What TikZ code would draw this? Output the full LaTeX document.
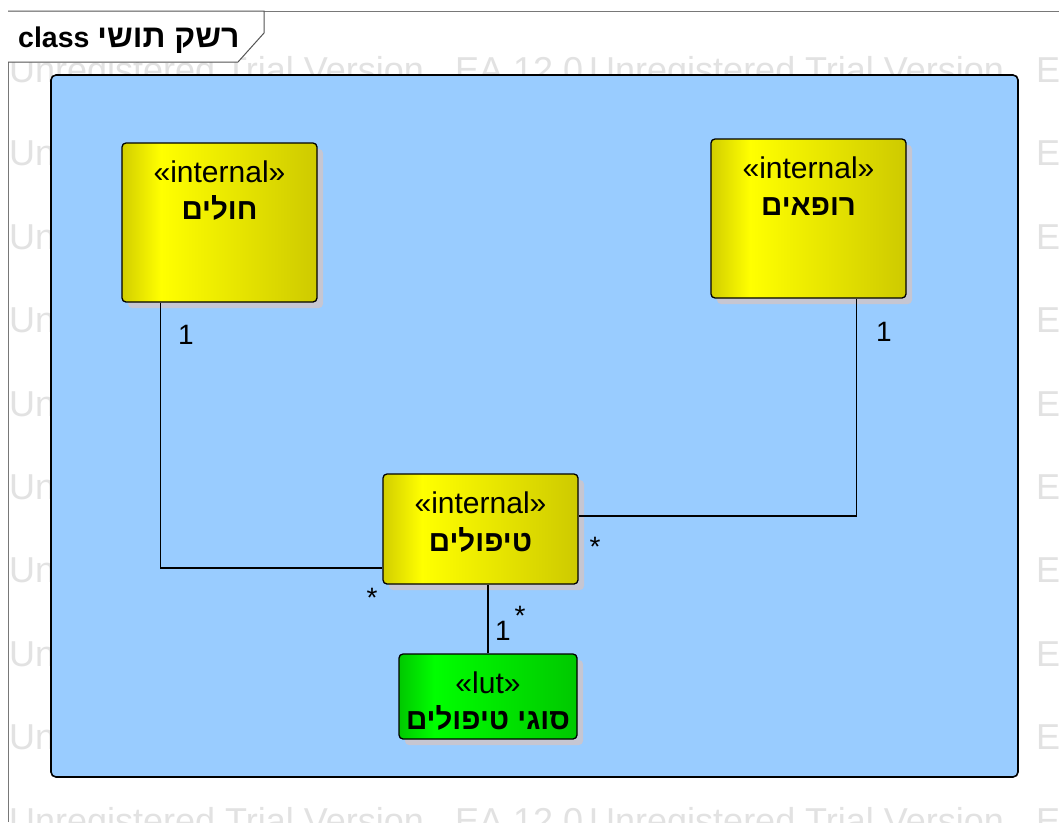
\documentclass[tikz,border=0pt]{standalone}
\usepackage{fontspec}
\setmainfont{Liberation Sans}
\newfontfamily\hebfont[Script=Hebrew]{Liberation Sans}
\TeXXeTstate=1
\usetikzlibrary{calc,shadows}
\definecolor{pkgblue}{RGB}{153,204,255}
\definecolor{wmgray}{RGB}{226,226,226}
\definecolor{shadowgray}{RGB}{198,198,210}
\definecolor{framegray}{RGB}{120,120,120}
\definecolor{ylwA}{RGB}{210,206,0}
\definecolor{ylwB}{RGB}{255,255,0}
\definecolor{ylwC}{RGB}{206,202,0}
\definecolor{grnA}{RGB}{0,200,0}
\definecolor{grnB}{RGB}{0,255,0}
\definecolor{grnC}{RGB}{0,200,0}
\pgfdeclarehorizontalshading{yelshade}{100bp}{color(0bp)=(ylwA); color(25bp)=(ylwA); color(35bp)=(ylwB); color(75bp)=(ylwC); color(100bp)=(ylwC)}
\pgfdeclarehorizontalshading{grnshade}{100bp}{color(0bp)=(grnA); color(25bp)=(grnA); color(35bp)=(grnB); color(75bp)=(grnC); color(100bp)=(grnC)}
\begin{document}
\begin{tikzpicture}[x=1pt,y=-1pt,
  wm/.style={anchor=base west, inner sep=0pt, text=wmgray, font=\fontsize{36}{42}\selectfont},
  classbox/.style={draw=black, line width=1.3pt, rounded corners=4pt, shading=yelshade,
    drop shadow={shadow xshift=6pt, shadow yshift=-6pt, fill=shadowgray, opacity=1}},
  lutbox/.style={classbox, shading=grnshade},
  stereo/.style={anchor=base, inner sep=0pt, font=\fontsize{30}{35}\selectfont},
  cname/.style={anchor=base, inner sep=0pt, font=\hebfont\bfseries\fontsize{29.5}{34}\selectfont},
  mult/.style={anchor=base, inner sep=0pt, font=\fontsize{28}{32}\selectfont},
  conn/.style={draw=black, line width=1.2pt}]
\useasboundingbox (0,0) rectangle (1059,822);
\fill[white] (0,0) rectangle (1059,822);
\begin{scope}
\clip (0,0) rectangle (1059,822);
\foreach \k in {0,...,9}{
  \pgfmathsetmacro\yb{82.5+83.4*\k}
  \node[wm] (wma\k) at (9,\yb) {Unregistered Trial Version};
  \node[wm] (wmb\k) at (455,\yb) {EA 12.0};
  \node[wm] (wmc\k) at (589,\yb) {Unregistered Trial Version};
  \node[wm] (wmd\k) at (1036,\yb) {EA 12.0};
}
% outer frame
\draw[framegray, line width=1pt] (8,822) -- (8,11) -- (1059,11);
\draw[framegray!70!black, line width=1pt, fill=white] (8,11) -- (264,11) -- (264,33) -- (238,62) -- (8,62);
\node[anchor=base west, inner sep=0pt, font=\bfseries\fontsize{28.5}{32}\selectfont] (title) at (18,47) {class {\hebfont\fontsize{32}{36}\selectfont\beginR רשק תושי\endR}};
\end{scope}
% package area
\node[draw=black, line width=1.6pt, fill=pkgblue, rounded corners=5pt, minimum width=967pt, minimum height=702pt, inner sep=0pt] (pkg) at (534.5,426) {};
% classes
\node[classbox, minimum width=195pt, minimum height=159pt] (hol) at (219.5,222.5) {};
\node[classbox, minimum width=195pt, minimum height=159pt] (rof) at (808.5,218.5) {};
\node[classbox, minimum width=195pt, minimum height=110pt] (tip) at (480.5,529) {};
\node[lutbox, minimum width=178pt, minimum height=85pt] (sug) at (488,696.5) {};
\node[stereo] (holS) at ($(hol.north)+(0,40.5)$) {«internal»};
\node[cname] (holN) at ($(hol.north)+(0,77.5)$) {\beginR חולים\endR};
\node[stereo] (rofS) at ($(rof.north)+(0,40.5)$) {«internal»};
\node[cname] (rofN) at ($(rof.north)+(0,77.5)$) {\beginR רופאים\endR};
\node[stereo] (tipS) at ($(tip.north)+(0,40.5)$) {«internal»};
\node[cname] (tipN) at ($(tip.north)+(0,78.5)$) {\beginR טיפולים\endR};
\node[stereo] (sugS) at ($(sug.north)+(0,40.5)$) {«lut»};
\node[cname] (sugN) at ($(sug.north)+(0,76.5)$) {\beginR סוגי טיפולים\endR};
% connectors
\draw[conn] ([xshift=39pt]hol.south west) |- ([yshift=-39pt]tip.west);
\draw[conn] ([xshift=146pt]rof.south west) |- ([yshift=13pt]tip.east);
\draw[conn] (sug.north) -- (sug.north |- tip.south);
% multiplicities
\node[mult] (m1) at (186,344) {1};
\node[mult] (m2) at (372,607) {*};
\node[mult] (m3) at (884,341) {1};
\node[mult] (m4) at (595,556) {*};
\node[mult] (m5) at (520,625) {*};
\node[mult] (m6) at (503,640) {1};
\end{tikzpicture}
\end{document}
